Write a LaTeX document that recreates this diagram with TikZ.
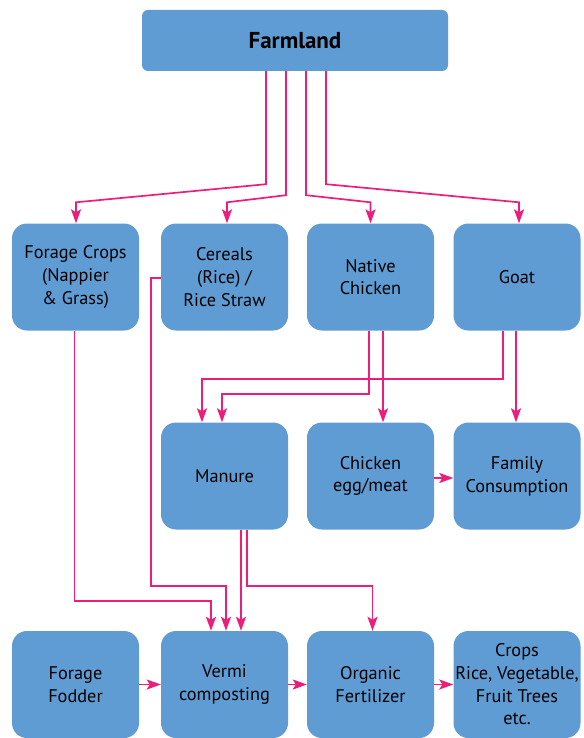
\documentclass[tikz,border=0pt]{standalone}
\usepackage{fontspec}
\setmainfont{PT Sans}
\usetikzlibrary{arrows.meta}
\definecolor{boxblue}{HTML}{5F9CD3}
\definecolor{arrpink}{HTML}{EC1E79}
\tikzset{
  box/.style={fill=boxblue, rounded corners=15pt, minimum width=127pt, minimum height=107pt, inner sep=0pt, align=center, font=\fontsize{18.3}{22.7}\selectfont},
  topbox/.style={fill=boxblue, rounded corners=6pt, minimum width=306pt, minimum height=61pt, inner sep=0pt, font=\fontsize{23}{27}\selectfont\bfseries},
  arr/.style={draw=arrpink, line width=1.7pt, -{Stealth[length=14pt,width=10pt,inset=3pt]}},
}
\begin{document}
\begin{tikzpicture}[x=1pt,y=1pt]
\useasboundingbox (0,0) rectangle (583,-738);
\node[topbox] (farm) at (295,-40.5) {Farmland};
\node[box] (forage) at (75.5,-277) {Forage Crops\\(Nappier\\\& Grass)};
\node[box] (cereals) at (224.5,-277) {Cereals\\(Rice) /\\Rice Straw};
\node[box] (chicken) at (370.5,-277) {Native\\Chicken};
\node[box] (goat) at (517,-277) {Goat};
\node[box] (manure) at (224.5,-476) {Manure};
\node[box] (egg) at (370.5,-476) {Chicken\\egg/meat};
\node[box] (family) at (517,-476) {Family\\Consumption};
\node[box] (fodder) at (75.5,-684.5) {Forage\\Fodder};
\node[box] (vermi) at (224.5,-684.5) {Vermi\\composting};
\node[box] (organic) at (370.5,-684.5) {Organic\\Fertilizer};
\node[box] (crops) at (517,-684.5) {Crops\\Rice, Vegetable,\\Fruit Trees\\etc.};
% farmland outputs
\draw[arr] ([xshift=-29pt]farm.south) -- ++(0,-113) -- ([xshift=0.5pt,yshift=21pt]forage.north) -- ([xshift=0.5pt]forage.north);
\draw[arr] ([xshift=-9pt]farm.south) -- ++(0,-124) -- ([xshift=2.5pt,yshift=21pt]cereals.north) -- ([xshift=2.5pt]cereals.north);
\draw[arr] ([xshift=11pt]farm.south) -- ++(0,-124) -- ([yshift=21pt]chicken.north) -- (chicken.north);
\draw[arr] ([xshift=31pt]farm.south) -- ++(0,-113) -- ([xshift=2pt,yshift=21pt]goat.north) -- ([xshift=2pt]goat.north);
% row 2 to row 3
\draw[arr] ([xshift=-14pt]goat.south) -- ++(0,-48) -| ([xshift=-22.5pt]manure.north);
\draw[arr] ([xshift=-1.5pt]chicken.south) -- ++(0,-63) -| ([xshift=-2.5pt]manure.north);
\draw[arr] ([xshift=12.5pt]chicken.south) -- ([xshift=12.5pt]egg.north);
\draw[arr] ([xshift=-1pt]goat.south) -- ([xshift=-1pt]family.north);
\draw[arr] ([yshift=-2pt]egg.east) -- ([yshift=-2pt]family.west);
% to bottom row
\draw[arr] ([xshift=-1pt]forage.south) -- ++(0,-270) -| ([xshift=-13.5pt]vermi.north);
\draw[arr] ([yshift=-0.7pt]cereals.west) -- ++(-10,0) -- ++(0,-308) -| ([xshift=1.5pt]vermi.north);
\draw[arr] ([xshift=16.5pt]manure.south) -- ([xshift=16.5pt]vermi.north);
\draw[arr] ([xshift=22.5pt]manure.south) -- ++(0,-56) -| ([xshift=2pt]organic.north);
% bottom row
\draw[arr] (fodder.east) -- (vermi.west);
\draw[arr] (vermi.east) -- (organic.west);
\draw[arr] (organic.east) -- (crops.west);
\end{tikzpicture}
\end{document}
